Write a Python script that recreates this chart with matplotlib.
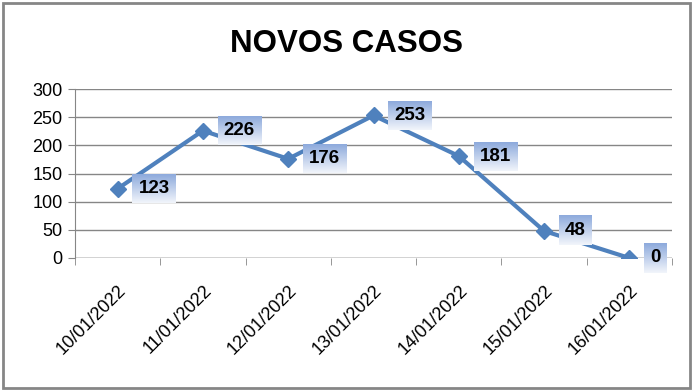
import numpy as np
import matplotlib
matplotlib.use('Agg')
import matplotlib.pyplot as plt
from matplotlib.patches import Rectangle

plt.rcParams['font.family'] = ['Liberation Sans', 'DejaVu Sans']

datas = ['10/01/2022', '11/01/2022', '12/01/2022', '13/01/2022',
         '14/01/2022', '15/01/2022', '16/01/2022']
casos = [123, 226, 176, 253, 181, 48, 0]

fig = plt.figure(figsize=(6.94, 3.91), dpi=100)
fig.patches.append(Rectangle((0.004, 0.008), 0.99, 0.985, transform=fig.transFigure,
                             fill=False, edgecolor='#868686', linewidth=2))
ax = fig.add_axes([75/694, 1 - 258/391, 597/694, 169/391])

x = np.arange(len(casos))
ax.plot(x, casos, color='#4F81BD', linewidth=3, marker='D', markersize=8, zorder=5)

ax.set_xlim(-0.5, len(casos) - 0.5)
ax.set_ylim(0, 300)
ax.set_yticks(range(0, 301, 50))
ax.yaxis.grid(True, color='#868686', linewidth=1)
ax.set_axisbelow(True)
for s in ['top', 'right', 'bottom']:
    ax.spines[s].set_visible(False)
ax.spines['left'].set_color('#868686')
ax.axhline(0, color='#868686', linewidth=1, zorder=1)

ax.set_xticks(x)
ax.set_xticklabels(datas, rotation=45, ha='right', rotation_mode='anchor', fontsize=13)
ax.tick_params(axis='x', length=0, pad=17)
ax.set_xticks(np.arange(-0.5, len(casos), 1), minor=True)
ax.tick_params(axis='x', which='minor', length=5, color='#868686')
ax.tick_params(axis='y', length=5, color='#868686', labelsize=13, pad=4)

fig.text(0.5, 1 - 44/391, 'NOVOS CASOS', ha='center', va='center', fontsize=22.5, fontweight='bold')

# rótulos com fundo em gradiente
labels = []
for xi, v in zip(x, casos):
    t = ax.annotate(str(v), (xi, v), xytext=(15, 0), textcoords='offset points',
                    ha='left', va='center', fontsize=13.5, fontweight='bold', zorder=8)
    labels.append(t)

fig.canvas.draw()
r = fig.canvas.get_renderer()
grad = np.linspace(0, 1, 64).reshape(-1, 1)
top = np.array([0x8D, 0xAA, 0xDC]) / 255
bot = np.array([0xF2, 0xF5, 0xFB]) / 255
img = top + (bot - top) * grad[:, :, None]
inv = ax.transData.inverted()
for t in labels:
    bb = t.get_window_extent(r)
    x0, y0 = inv.transform((bb.x0 - 6, bb.y0 - 6))
    x1, y1 = inv.transform((bb.x1 + 6, bb.y1 + 6))
    ax.imshow(img, extent=(x0, x1, y0, y1), aspect='auto', zorder=7,
              origin='upper', clip_on=False)
ax.set_xlim(-0.5, len(casos) - 0.5)
ax.set_ylim(0, 300)

fig.savefig('out.png', dpi=100)
